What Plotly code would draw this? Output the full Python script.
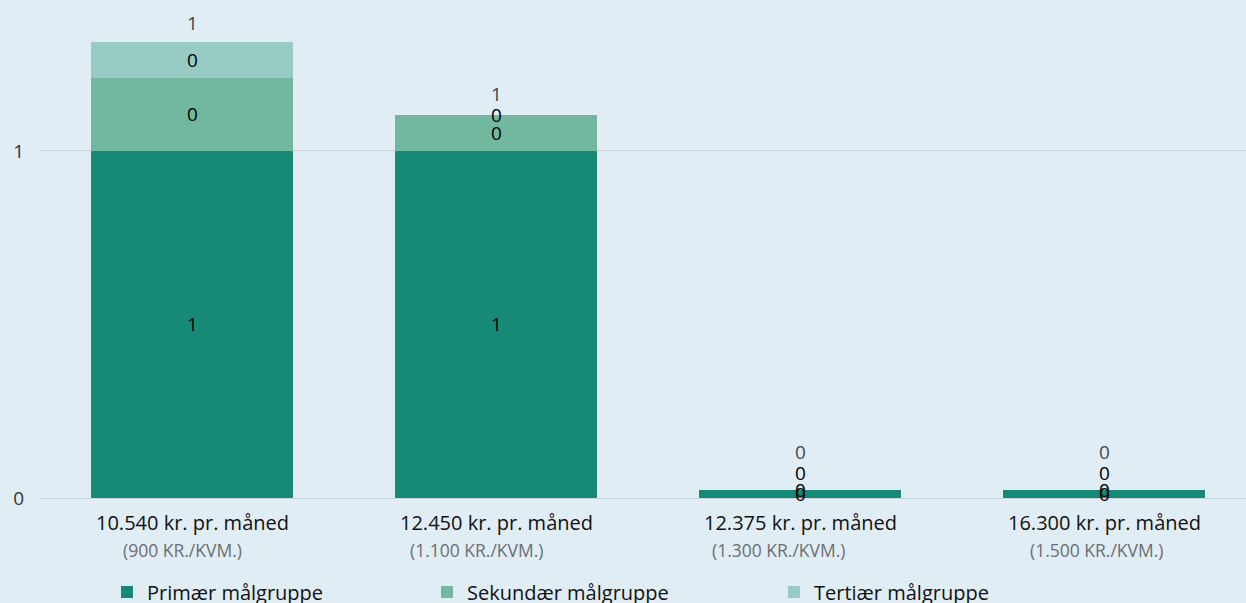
import plotly.graph_objects as go

# Monthly rent levels and the share of each target group
categories = ["10.540 kr. pr. måned", "12.450 kr. pr. måned",
              "12.375 kr. pr. måned", "16.300 kr. pr. måned"]
sublabels = ["(900 KR./KVM.)", "(1.100 KR./KVM.)",
             "(1.300 KR./KVM.)", "(1.500 KR./KVM.)"]
primary = [1.0, 1.0, 0.024, 0.022]
secondary = [0.21, 0.104, 0.0, 0.0]
tertiary = [0.104, 0.0, 0.0, 0.0]

series_names = ["Primær målgruppe", "Sekundær målgruppe", "Tertiær målgruppe"]
series_colors = ["#168a76", "#72b89e", "#98cbc3"]

FONT = "Open Sans"
BG = "#e1edf5"
W, H = 1246, 603
M_L, M_R, M_T, M_B = 40, 0, 10, 105
Y_MAX = 1.406
X_RANGE = [-0.5, 3.467]
PLOT_H = H - M_T - M_B
PX_PER_UNIT = PLOT_H / Y_MAX

fig = go.Figure()
series = [primary, secondary, tertiary]
legend_ids = ["legend", "legend2", "legend3"]
for vals, name, color, lg in zip(series, series_names, series_colors, legend_ids):
    fig.add_trace(go.Bar(
        x=list(range(len(categories))), y=vals, name=name,
        marker=dict(color=color, line=dict(width=0)),
        legend=lg, textposition="none", hoverinfo="y+name",
    ))

# Value labels: centred in each segment, nudged apart when they crowd together
annotations = []
for i in range(len(categories)):
    base = 0.0
    label_px = []
    for k, vals in enumerate(series):
        v = vals[i]
        mid_px = (base + v / 2) * PX_PER_UNIT
        if k == 2 and label_px and mid_px - label_px[-1] < 17:
            mid_px = label_px[-1] + 17
        label_px.append(mid_px)
        base += v
        annotations.append(dict(
            x=i, y=0, xref="x", yref="y", text=f"{v:.0f}", showarrow=False,
            yanchor="middle", yshift=mid_px,
            font=dict(family=FONT, size=19, color="#000000"),
        ))
    total = base
    total_px = max(total * PX_PER_UNIT + 19, label_px[-1] + 21)
    annotations.append(dict(
        x=i, y=0, xref="x", yref="y", text=f"{total:.0f}", showarrow=False,
        yanchor="middle", yshift=total_px,
        font=dict(family=FONT, size=19, color="#44474c"),
    ))

# Two-line category labels below the axis
sub_shift = [-10, -19, -21, -7]
for i, (cat, sub) in enumerate(zip(categories, sublabels)):
    annotations.append(dict(
        x=i, y=0, xref="x", yref="paper", text=cat, showarrow=False,
        yanchor="middle", yshift=-24,
        font=dict(family=FONT, size=20, color="#111111"),
    ))
    annotations.append(dict(
        x=i, y=0, xref="x", yref="paper", text=sub, showarrow=False,
        yanchor="middle", yshift=-52, xshift=sub_shift[i],
        font=dict(family=FONT, size=17.5, color="#6b6e72"),
    ))

legend_style = dict(
    orientation="h", yanchor="middle", xanchor="left",
    y=-(592 - (H - M_B)) / PLOT_H, bgcolor="rgba(0,0,0,0)",
    font=dict(family=FONT, size=20, color="#111111"),
)
legend_px = [107, 427, 774]
plot_w = W - M_L - M_R

fig.update_layout(
    width=W, height=H,
    margin=dict(l=M_L, r=M_R, t=M_T, b=M_B, autoexpand=False),
    paper_bgcolor=BG, plot_bgcolor=BG,
    barmode="stack", bargap=0.3355,
    showlegend=True,
    legend=dict(legend_style, x=(legend_px[0] - M_L) / plot_w),
    legend2=dict(legend_style, x=(legend_px[1] - M_L) / plot_w),
    legend3=dict(legend_style, x=(legend_px[2] - M_L) / plot_w),
    xaxis=dict(range=X_RANGE, showticklabels=False, showgrid=False,
               zeroline=False, ticks=""),
    yaxis=dict(range=[0, Y_MAX], tickvals=[0, 1], ticktext=["0", "1"],
               showgrid=True, gridcolor="#c8d3dc", gridwidth=1,
               zeroline=True, zerolinecolor="#c8d3dc", zerolinewidth=1,
               ticks="", ticklabelstandoff=15,
               tickfont=dict(family=FONT, size=19, color="#333333")),
    annotations=annotations,
    font=dict(family=FONT),
)

fig.write_html("out.html")
